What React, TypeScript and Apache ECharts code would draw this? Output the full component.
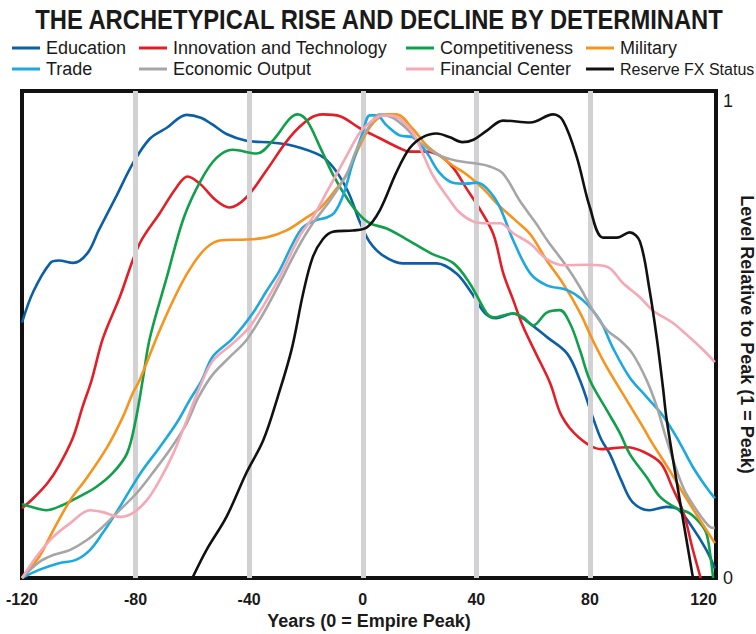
import React, { useEffect, useRef } from "react";
import * as echarts from "echarts";

const TITLE = "THE ARCHETYPICAL RISE AND DECLINE BY DETERMINANT";
const X_NAME = "Years (0 = Empire Peak)";
const Y_NAME = "Level Relative to Peak (1 = Peak)";
const GRID_YEARS = [-80, -40, 0, 40, 80];

const SERIES_NAMES = [
  "Education",
  "Innovation and Technology",
  "Competitiveness",
  "Military",
  "Trade",
  "Economic Output",
  "Financial Center",
  "Reserve FX Status",
];
const SERIES_COLORS = [
  "#0b5fa5",
  "#e41e26",
  "#10a04a",
  "#f7941d",
  "#1ba9e1",
  "#a6a6a6",
  "#f5a8b5",
  "#111111",
];

const education: [number, number][] = [
  [-120, 0.535], [-116, 0.6], [-110, 0.66], [-107, 0.665], [-102, 0.66], [-97, 0.68],
  [-93, 0.728], [-87, 0.797], [-81, 0.868], [-75, 0.92], [-69, 0.943], [-62, 0.97],
  [-57, 0.964], [-53, 0.95], [-48, 0.93], [-41, 0.916], [-32, 0.912], [-25, 0.906],
  [-15, 0.885], [-10, 0.857], [-5, 0.807], [-1, 0.745], [2.5, 0.703], [7, 0.676],
  [14, 0.659], [26, 0.659], [33, 0.638], [38, 0.6], [43, 0.555], [47, 0.544],
  [53, 0.554], [56, 0.546], [65, 0.504], [72, 0.47], [76.5, 0.414], [81, 0.337],
  [84, 0.29], [87, 0.26], [91, 0.205], [95, 0.159], [101, 0.142], [107, 0.149],
  [111, 0.144], [116, 0.107], [121, 0.059], [124, 0.02],
];

const innovation: [number, number][] = [
  [-120, 0.146], [-116, 0.167], [-111, 0.199], [-107, 0.235], [-102, 0.295], [-98.7, 0.358],
  [-95.5, 0.414], [-91.5, 0.502], [-85.6, 0.588], [-78.6, 0.7], [-71.5, 0.764], [-65.6, 0.818],
  [-61.7, 0.841], [-57.4, 0.826], [-51.5, 0.79], [-47, 0.776], [-41, 0.797], [-34, 0.853],
  [-25.7, 0.923], [-18.7, 0.962], [-14, 0.971], [-8, 0.967], [-1, 0.942], [6, 0.921],
  [13, 0.9], [16.5, 0.893], [22.5, 0.893], [27, 0.885], [32, 0.858], [36.5, 0.816],
  [41, 0.775], [46, 0.72], [49.5, 0.638], [53, 0.582], [56.5, 0.526], [61, 0.47],
  [66, 0.408], [70, 0.34], [76, 0.295], [84, 0.27], [93, 0.274], [99, 0.264],
  [105, 0.24], [109, 0.19], [113, 0.136], [116, 0.065], [119, 0.0],
];

const competitiveness: [number, number][] = [
  [-120, 0.155], [-115, 0.146], [-111.6, 0.142], [-105.6, 0.153], [-100, 0.17], [-94, 0.19],
  [-88, 0.22], [-83, 0.261], [-80, 0.33], [-77.5, 0.414], [-75, 0.502], [-69, 0.63],
  [-63, 0.755], [-57, 0.833], [-51.5, 0.88], [-45.8, 0.897], [-37.4, 0.889], [-31.7, 0.916],
  [-25.7, 0.962], [-23, 0.971], [-19.7, 0.958], [-15, 0.902], [-10.5, 0.845], [-5, 0.79],
  [-1, 0.76], [2.5, 0.743], [8.4, 0.732], [15, 0.711], [24, 0.68], [32, 0.659],
  [37.7, 0.617], [43.7, 0.554], [46, 0.546], [53, 0.554], [56.5, 0.546], [60, 0.529],
  [64.8, 0.556], [69.4, 0.561], [73, 0.533], [76.5, 0.477], [80, 0.414], [86, 0.351],
  [90.6, 0.303], [94, 0.26], [100, 0.211], [104.7, 0.17], [110.6, 0.146], [115, 0.136],
  [118.8, 0.115], [121, 0.094], [122.3, 0.052], [123.4, 0.0],
];

const military: [number, number][] = [
  [-120, 0.0], [-114, 0.044], [-109, 0.1], [-103, 0.163], [-97, 0.211], [-90, 0.274],
  [-84.5, 0.337], [-81, 0.387], [-78.6, 0.414], [-71.5, 0.519], [-64.5, 0.609], [-59.6, 0.659],
  [-55, 0.692], [-50.4, 0.707], [-41, 0.709], [-34, 0.713], [-26.8, 0.728], [-21, 0.75],
  [-15, 0.775], [-10, 0.81], [-5.6, 0.845], [-1, 0.906], [3.5, 0.952], [8.4, 0.971],
  [11.8, 0.971], [17.6, 0.941], [22.5, 0.906], [27, 0.885], [31.7, 0.864], [36.6, 0.845],
  [42.3, 0.816], [48, 0.78], [54, 0.748], [59, 0.72], [64.8, 0.665], [70.5, 0.617],
  [76.5, 0.556], [81, 0.498], [86, 0.441], [93, 0.372], [98.7, 0.316], [102, 0.282],
  [108, 0.226], [112.8, 0.178], [118.8, 0.121], [124, 0.073],
];

const trade: [number, number][] = [
  [-120, 0.0], [-114, 0.017], [-107, 0.031], [-101, 0.038], [-96, 0.059], [-91.6, 0.094],
  [-86.7, 0.138], [-82, 0.184], [-77.5, 0.226], [-71.5, 0.274], [-65.6, 0.324], [-61, 0.372],
  [-56.7, 0.414], [-52.8, 0.464], [-45.8, 0.502], [-38.8, 0.554], [-34, 0.6], [-29.3, 0.644],
  [-24.7, 0.7], [-21, 0.735], [-16, 0.75], [-12.7, 0.755], [-10, 0.765], [-7, 0.8],
  [-3.5, 0.87], [0, 0.933], [2.5, 0.969], [4.9, 0.969], [8.4, 0.948], [13, 0.927],
  [17.6, 0.923], [22.5, 0.891], [27, 0.849], [31.7, 0.828], [36.6, 0.826], [40, 0.828],
  [43.7, 0.816], [48, 0.78], [53, 0.707], [59, 0.638], [64.8, 0.613], [72, 0.603],
  [77.5, 0.582], [83.5, 0.54], [88, 0.483], [94, 0.42], [100, 0.379], [105.7, 0.34],
  [111, 0.29], [116.3, 0.232], [121, 0.19], [124, 0.167],
];

const economicOutput: [number, number][] = [
  [-120, 0.0], [-114, 0.033], [-109, 0.048], [-103, 0.059], [-97, 0.08], [-91.6, 0.107],
  [-85.6, 0.142], [-79.6, 0.178], [-74, 0.22], [-68, 0.268], [-62, 0.324], [-58, 0.377],
  [-53, 0.425], [-47, 0.462], [-41, 0.498], [-35, 0.554], [-29.3, 0.617], [-23, 0.69],
  [-17.6, 0.743], [-11.6, 0.79], [-5.6, 0.847], [-2, 0.9], [2.5, 0.948], [6, 0.971],
  [10.6, 0.964], [15.5, 0.941], [20, 0.912], [27, 0.885], [33, 0.874], [40, 0.868],
  [44.7, 0.862], [49.4, 0.847], [55.3, 0.79], [61, 0.743], [65, 0.707], [72, 0.651],
  [76.5, 0.609], [81, 0.561], [86, 0.519], [90.6, 0.498], [95, 0.47], [100, 0.414],
  [103.6, 0.358], [107, 0.29], [112.8, 0.19], [117.6, 0.142], [122.3, 0.107], [124, 0.105],
];

const financialCenter: [number, number][] = [
  [-120, 0.0], [-115, 0.044], [-109, 0.086], [-103, 0.115], [-96, 0.142], [-91.6, 0.138],
  [-85.6, 0.128], [-81, 0.136], [-76, 0.163], [-71.5, 0.205], [-66.7, 0.261], [-62, 0.33],
  [-57.4, 0.4], [-52.8, 0.455], [-46, 0.49], [-40, 0.525], [-35, 0.57], [-29.3, 0.63],
  [-22, 0.718], [-17.6, 0.755], [-12.7, 0.808], [-5.6, 0.885], [-1, 0.933], [2.5, 0.954],
  [6, 0.967], [9.5, 0.969], [13, 0.962], [17.6, 0.933], [21, 0.891], [24.7, 0.843],
  [29.6, 0.8], [34, 0.766], [38.8, 0.747], [43.7, 0.743], [48.3, 0.743], [53, 0.722],
  [59, 0.7], [64.8, 0.668], [71, 0.655], [79, 0.656], [86, 0.652], [91.6, 0.618],
  [97.6, 0.588], [102, 0.561], [109, 0.535], [114, 0.51], [120, 0.477], [124, 0.452],
];

const reserveFx: [number, number][] = [
  [-60, 0.0], [-55, 0.059], [-48, 0.128], [-41, 0.22], [-35, 0.289], [-30, 0.378],
  [-25, 0.48], [-21, 0.596], [-17.6, 0.672], [-14, 0.71], [-10.5, 0.725], [-3.5, 0.728],
  [1.4, 0.734], [6, 0.77], [11.8, 0.849], [16.5, 0.9], [21, 0.923], [26, 0.931],
  [30.7, 0.923], [35, 0.913], [39, 0.918], [43.7, 0.937], [49.4, 0.958], [59, 0.954],
  [67, 0.971], [70.5, 0.958], [75.4, 0.881], [80, 0.776], [84.6, 0.713], [89.5, 0.713],
  [94, 0.724], [97.6, 0.705], [101, 0.603], [103.6, 0.5], [105.7, 0.4], [107, 0.333],
  [110.6, 0.2], [114, 0.08], [116.3, 0.0],
];

const SERIES_DATA = [
  education,
  innovation,
  competitiveness,
  military,
  trade,
  economicOutput,
  financialCenter,
  reserveFx,
];

const SANS = "'Liberation Sans', Arial, sans-serif";
const INK = "#1a1a1a";

export default function App() {
  const ref = useRef<HTMLDivElement>(null);

  useEffect(() => {
    if (!ref.current) return;
    const chart = echarts.init(ref.current, undefined, { renderer: "svg" });

    // legend layout: 4 columns x 2 rows
    const legendCols = [12, 139, 406, 586];
    const legendRows = [39, 60];
    const legendCell = [
      [0, 0], [1, 0], [2, 0], [3, 0],
      [0, 1], [1, 1], [2, 1], [3, 1],
    ];
    const legendSizes = [18, 18, 18, 18, 18, 18, 18, 16];

    const legends = SERIES_NAMES.map((name, i) => ({
      left: legendCols[legendCell[i][0]],
      top: legendRows[legendCell[i][1]] + (legendSizes[i] < 18 ? 1 : 0),
      itemWidth: 28,
      itemHeight: 3,
      icon: "rect",
      selectedMode: false,
      padding: 0,
      data: [name],
      textStyle: {
        fontFamily: SANS,
        fontSize: legendSizes[i],
        color: INK,
        padding: [0, 0, 0, 1],
      },
    }));

    const lineSeries = SERIES_NAMES.map((name, i) => ({
      name,
      type: "line",
      data: SERIES_DATA[i],
      smooth: 0.35,
      showSymbol: false,
      symbol: "none",
      z: 3 + i,
      lineStyle: { color: SERIES_COLORS[i], width: 2.6 },
      itemStyle: { color: SERIES_COLORS[i] },
    }));

    const gridSeries = {
      name: "grid",
      type: "line",
      data: [],
      z: 1,
      silent: true,
      markLine: {
        silent: true,
        symbol: "none",
        label: { show: false },
        lineStyle: { color: "#d2d2d4", width: 5, type: "solid" },
        data: GRID_YEARS.map((x) => ({ xAxis: x })),
      },
    };

    chart.setOption({
      animation: false,
      backgroundColor: "#ffffff",
      graphic: [
        {
          type: "text",
          x: 379,
          y: 19,
          scaleX: 0.88,
          silent: true,
          style: {
            text: TITLE,
            fontFamily: SANS,
            fontWeight: "bold",
            fontSize: 27,
            fill: INK,
            textAlign: "center",
            textVerticalAlign: "middle",
          },
        },
      ],
      legend: legends,
      grid: {
        left: 22,
        right: 40,
        top: 91,
        bottom: 56,
        outerBoundsMode: "none",
        containLabel: false,
        show: true,
        borderColor: "#111111",
        borderWidth: 4,
        backgroundColor: "transparent",
      },
      xAxis: {
        type: "value",
        min: -120,
        max: 124.4,
        interval: 40,
        name: X_NAME,
        nameLocation: "middle",
        nameGap: 34,
        nameMoveOverlap: false,
        nameTextStyle: {
          fontFamily: SANS,
          fontWeight: "bold",
          fontSize: 18,
          color: INK,
        },
        axisLine: { show: false },
        axisTick: { show: false },
        splitLine: { show: false },
        axisLabel: {
          showMaxLabel: false,
          margin: 13,
          fontFamily: SANS,
          fontWeight: "bold",
          fontSize: 16,
          color: INK,
          formatter: (v: number) => (v % 40 === 0 ? String(v) : ""),
        },
      },
      yAxis: {
        type: "value",
        position: "right",
        min: 0,
        max: 1.02,
        interval: 1,
        name: Y_NAME,
        nameLocation: "middle",
        nameRotate: -90,
        nameGap: 22,
        nameMoveOverlap: false,
        nameTextStyle: {
          fontFamily: SANS,
          fontWeight: "bold",
          fontSize: 18,
          color: INK,
        },
        axisLine: { show: false },
        axisTick: { show: false },
        splitLine: { show: false },
        axisLabel: {
          margin: 7,
          fontFamily: SANS,
          fontSize: 18,
          color: INK,
          formatter: (v: number) => (v === 0 || v === 1 ? String(v) : ""),
        },
      },
      series: [gridSeries, ...lineSeries],
    });

    return () => {
      chart.dispose();
    };
  }, []);

  return (
    <div
      ref={ref}
      style={{ position: "fixed", left: 0, top: 0, width: 756, height: 634 }}
    />
  );
}
